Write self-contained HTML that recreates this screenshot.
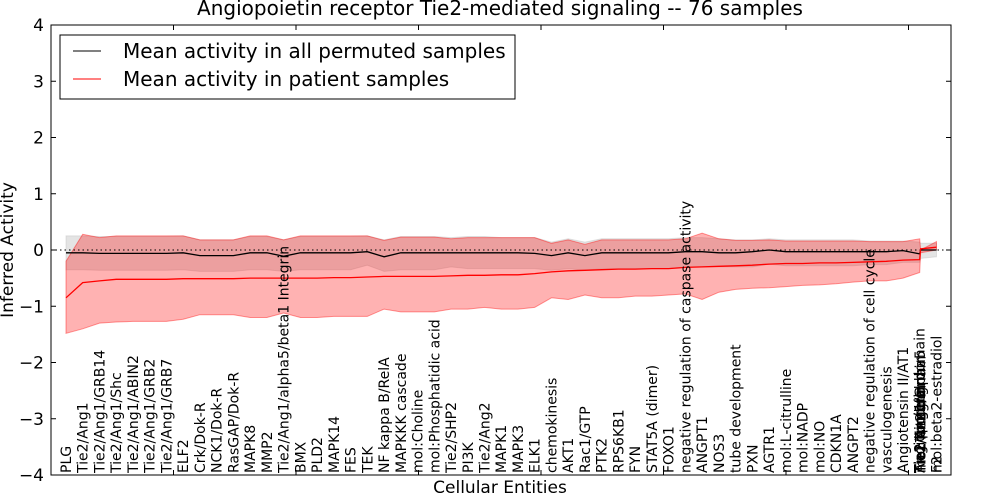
<!DOCTYPE html>
<html><head><meta charset="utf-8">
<style>
body{margin:0;background:#fff;}
svg{display:block;font-family:"DejaVu Sans","Liberation Sans",sans-serif;}
</style></head>
<body>
<svg id="chart" width="1000" height="500" viewBox="0 0 1000 500" xmlns="http://www.w3.org/2000/svg">
<rect x="0" y="0" width="1000" height="500" fill="#fff"/>
<text x="500" y="15" font-size="20" text-anchor="middle">Angiopoietin receptor Tie2-mediated signaling -- 76 samples</text>
<g id="plot"></g>
<text transform="translate(13,250) rotate(-90)" font-size="17" text-anchor="middle">Inferred Activity</text>
<text x="500" y="493" font-size="17" text-anchor="middle">Cellular Entities</text>
<g>
<rect x="60" y="35" width="455" height="64" fill="#fff" stroke="#000" stroke-width="1"/>
<line x1="73" y1="51" x2="101" y2="51" stroke="#000" stroke-width="1"/>
<text x="123" y="58" font-size="20">Mean activity in all permuted samples</text>
<line x1="73" y1="79" x2="101" y2="79" stroke="#f00" stroke-width="1"/>
<text x="123" y="86" font-size="20">Mean activity in patient samples</text>
</g>
</svg>
<script>
const categories = ["PLG","Tie2/Ang1","Tie2/Ang1/GRB14","Tie2/Ang1/Shc","Tie2/Ang1/ABIN2","Tie2/Ang1/GRB2","Tie2/Ang1/GRB7","ELF2","Crk/Dok-R","NCK1/Dok-R","RasGAP/Dok-R","MAPK8","MMP2","Tie2/Ang1/alpha5/beta1 Integrin","BMX","PLD2","MAPK14","FES","TEK","NF kappa B/RelA","MAPKKK cascade","mol:Choline","mol:Phosphatidic acid","Tie2/SHP2","PI3K","Tie2/Ang2","MAPK1","MAPK3","ELK1","chemokinesis","AKT1","Rac1/GTP","PTK2","RPS6KB1","FYN","STAT5A (dimer)","FOXO1","negative regulation of caspase activity","ANGPT1","NOS3","tube development","PXN","AGTR1","mol:L-citrulline","mol:NADP","mol:NO","CDKN1A","ANGPT2","negative regulation of cell cycle","vasculogenesis","Angiotensin II/AT1","Tie2/Ang1/FAK","Tie2/Ang1/alpha5/beta1 Integrin/FAK","mol:beta2-estradiol"];
const categoryIndex = [0,1,2,3,4,5,6,7,8,9,10,11,12,13,14,15,16,17,18,19,20,21,22,23,24,25,26,27,28,29,30,31,32,33,34,35,36,37,38,39,40,41,42,43,44,45,46,47,48,49,50,51,51.05,52];
const clusterLabels = ["Angiopoietin domain","Tie2/Ang1/alpha5","Tie2 integrin","Tie2 protein","Tie2/Ang1/Grb","mol:Tie2 domain","Tie2 binding","F2"];
const clusterIndex = [51,51.03,51.06,50.98,51.01,51.04,51.02,52];
const permutedMean = [-0.05,-0.05,-0.06,-0.06,-0.06,-0.06,-0.06,-0.05,-0.1,-0.1,-0.1,-0.05,-0.05,-0.11,-0.05,-0.05,-0.05,-0.05,-0.03,-0.12,-0.05,-0.05,-0.05,-0.05,-0.05,-0.05,-0.05,-0.05,-0.06,-0.1,-0.05,-0.1,-0.05,-0.05,-0.05,-0.05,-0.05,-0.03,-0.03,-0.05,-0.05,-0.03,0,-0.03,-0.03,-0.03,-0.03,-0.03,-0.03,-0.03,-0.01,-0.07,0.0,0.0];
const permutedUpper = [0.25,0.25,0.24,0.24,0.24,0.24,0.24,0.25,0.18,0.18,0.18,0.24,0.24,0.18,0.24,0.24,0.24,0.24,0.25,0.18,0.24,0.24,0.24,0.22,0.24,0.24,0.22,0.22,0.22,0.14,0.2,0.14,0.2,0.2,0.2,0.2,0.2,0.22,0.22,0.2,0.18,0.18,0.2,0.18,0.18,0.18,0.18,0.18,0.16,0.16,0.16,0.14,0.12,0.12];
const permutedLower = [-0.35,-0.35,-0.36,-0.36,-0.36,-0.36,-0.36,-0.35,-0.38,-0.38,-0.38,-0.35,-0.35,-0.38,-0.35,-0.35,-0.35,-0.35,-0.27,-0.38,-0.35,-0.35,-0.35,-0.3,-0.33,-0.33,-0.33,-0.33,-0.33,-0.36,-0.33,-0.36,-0.33,-0.33,-0.33,-0.33,-0.33,-0.3,-0.3,-0.3,-0.3,-0.3,-0.25,-0.28,-0.28,-0.28,-0.28,-0.28,-0.26,-0.26,-0.22,-0.22,-0.15,-0.12];
const patientMean = [-0.85,-0.58,-0.55,-0.52,-0.52,-0.52,-0.52,-0.51,-0.51,-0.51,-0.51,-0.5,-0.5,-0.5,-0.5,-0.5,-0.49,-0.49,-0.48,-0.47,-0.47,-0.47,-0.47,-0.46,-0.45,-0.45,-0.44,-0.44,-0.42,-0.39,-0.37,-0.36,-0.35,-0.34,-0.34,-0.33,-0.33,-0.31,-0.3,-0.29,-0.28,-0.27,-0.25,-0.24,-0.24,-0.23,-0.23,-0.22,-0.21,-0.2,-0.18,-0.17,0.02,0.05];
const patientUpper = [-0.2,0.28,0.22,0.25,0.25,0.25,0.25,0.25,0.18,0.18,0.18,0.25,0.25,0.18,0.25,0.25,0.25,0.25,0.25,0.17,0.23,0.23,0.23,0.2,0.22,0.22,0.22,0.22,0.22,0.12,0.18,0.1,0.18,0.18,0.18,0.18,0.18,0.2,0.3,0.2,0.17,0.17,0.18,0.16,0.16,0.16,0.16,0.16,0.15,0.15,0.15,0.2,0.0,0.15];
const patientLower = [-1.48,-1.4,-1.3,-1.28,-1.27,-1.27,-1.27,-1.23,-1.15,-1.15,-1.15,-1.2,-1.2,-1.12,-1.2,-1.2,-1.18,-1.18,-1.18,-1.05,-1.1,-1.1,-1.1,-1.05,-1.05,-1.02,-1.05,-1.05,-1.02,-0.85,-0.88,-0.8,-0.85,-0.85,-0.82,-0.82,-0.8,-0.78,-0.88,-0.75,-0.7,-0.68,-0.67,-0.65,-0.63,-0.62,-0.6,-0.57,-0.55,-0.55,-0.5,-0.4,-0.05,0.0];
const yTicks = [4,3,2,1,0,-1,-2,-3,-4];
const yTickLabels = ["4","3","2","1","0","\u22121","\u22122","\u22123","\u22124"];

const L=51, R=951, T=25, B=475;
const NS="http://www.w3.org/2000/svg";
const plot=document.getElementById('plot');
function xs(i){return 66+i*16.74;}
function ys(v){return 250-v*56.25;}
function mk(tag,attrs){const e=document.createElementNS(NS,tag);for(const k in attrs)e.setAttribute(k,attrs[k]);plot.appendChild(e);return e;}
function band(up,lo,fill,op,name){
  let d='M';
  for(let i=0;i<up.length;i++)d+=(i?'L':'')+xs(categoryIndex[i]).toFixed(1)+','+ys(up[i]).toFixed(1);
  for(let i=lo.length-1;i>=0;i--)d+='L'+xs(categoryIndex[i]).toFixed(1)+','+ys(lo[i]).toFixed(1);
  const p=mk('path',{d:d+'Z',fill:fill,'fill-opacity':op,stroke:fill,'stroke-opacity':0.4,'stroke-width':1});
  
  
}
function line(vals,col,name){
  const pts=vals.map((v,i)=>xs(categoryIndex[i]).toFixed(1)+','+ys(v).toFixed(1)).join(' ');
  const p=mk('polyline',{points:pts,fill:'none',stroke:col,'stroke-width':1.3});
  
  
}
band(permutedUpper,permutedLower,'#bbbbbb',0.4,'permuted-band');
band(patientUpper,patientLower,'#ff0000',0.3,'patient-band');
const zl=mk('line',{x1:L,y1:ys(0),x2:R,y2:ys(0),stroke:'#000','stroke-dasharray':'1.5,3','stroke-width':1});


line(permutedMean,'#000','permuted-mean-line');
line(patientMean,'#f00','patient-mean-line');
const fr=mk('rect',{x:L,y:T,width:R-L,height:B-T,fill:'none',stroke:'#000','stroke-width':1});


yTicks.forEach((v,i)=>{
  const y=ys(v);
  const t1=mk('line',{x1:L,y1:y,x2:L+5,y2:y,stroke:'#000'});
  
  
  const t2=mk('line',{x1:R,y1:y,x2:R-5,y2:y,stroke:'#000'});
  
  
  const tx=mk('text',{x:L-7,y:y+6,'font-size':17,'text-anchor':'end'});
  tx.textContent=yTickLabels[i];
  
  
});
for(let k=1;k<=7;k++){
  const x=L+122.5*k;
  const a=mk('line',{x1:x,y1:B,x2:x,y2:B-5,stroke:'#000'});
  
  
  const b=mk('line',{x1:x,y1:T,x2:x,y2:T+5,stroke:'#000'});
  
  
}
function label(txt,idx){
  const x=xs(idx)+5;
  const t=mk('text',{transform:'translate('+x.toFixed(1)+',473) rotate(-90)','font-size':14});
  t.textContent=txt;
  
  
}
categories.forEach((c,i)=>{ if(i<51 || i===53) label(c,categoryIndex[i]); });
clusterLabels.forEach((c,i)=>label(c,clusterIndex[i]));
</script>
</body></html>
